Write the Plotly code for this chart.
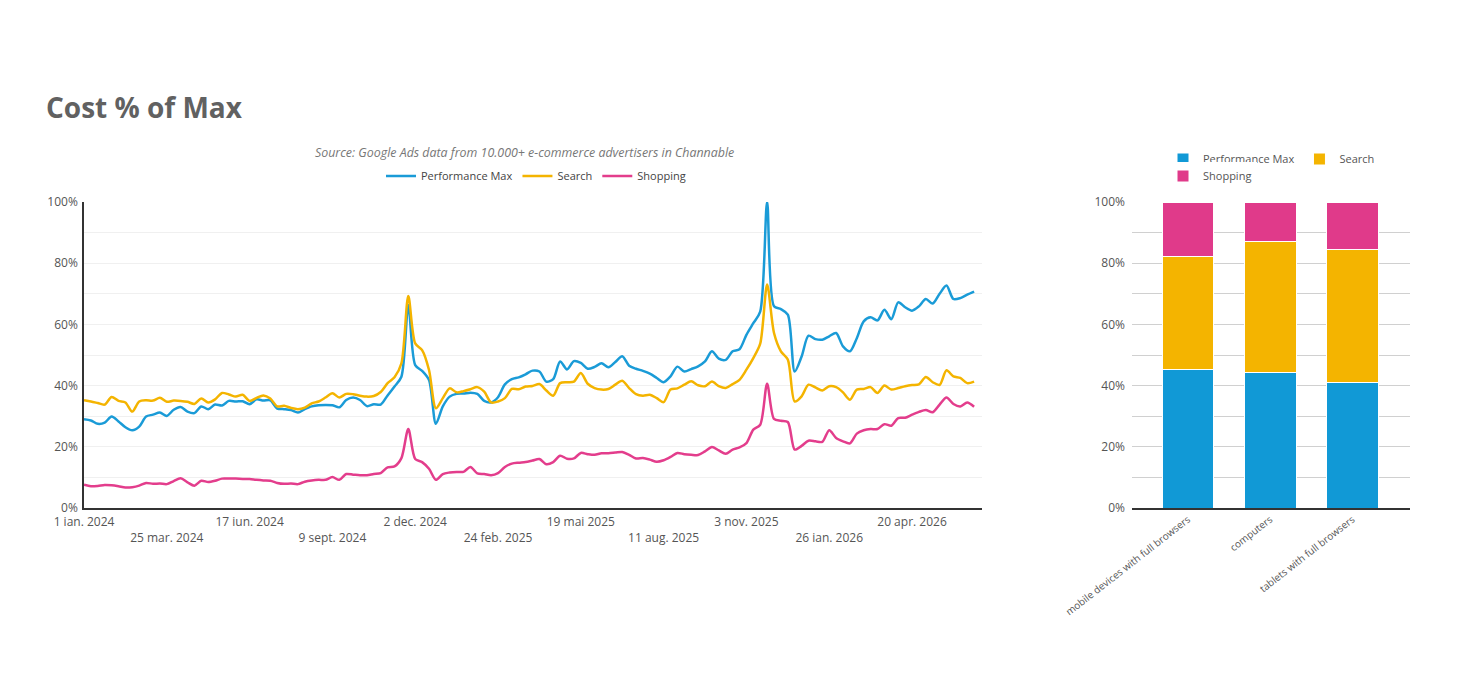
import pandas as pd
import plotly.graph_objects as go

BLUE = "#1a9bd7"
YELLOW = "#f4b400"
PINK = "#e33d8c"
FONT = "Open Sans"

# weekly series, starting Monday 1 Jan 2024
START = "2024-01-01"

pmax = [
    29.0, 28.6, 27.5, 27.9, 29.9, 28.3, 26.4, 25.4, 26.6, 29.9, 30.5, 31.2,
    30.1, 32.1, 33.0, 31.5, 31.0, 33.2, 32.3, 33.8, 33.5, 35.0, 34.8, 34.9,
    33.9, 35.5, 35.1, 35.2, 32.5, 32.3, 32.0, 31.2, 32.3, 33.2, 33.6, 33.7,
    33.6, 32.9, 35.3, 36.1, 35.3, 33.3, 33.9, 33.8, 36.8, 39.7, 42.9, 66.3,
    46.7, 44.8, 41.8, 27.5, 33.2, 36.4, 37.3, 37.4, 37.7, 37.3, 35.0, 34.5,
    36.2, 40.4, 42.1, 42.7, 43.7, 44.9, 44.6, 41.3, 42.1, 47.9, 45.3, 48.0,
    47.4, 45.5, 46.1, 47.3, 46.0, 47.7, 49.6, 46.5, 45.5, 44.8, 43.9, 42.5,
    41.1, 43.0, 46.2, 44.6, 45.4, 46.3, 47.9, 51.2, 48.8, 48.4, 51.2, 51.9,
    56.6, 60.4, 64.2, 100.0, 65.9, 65.0, 63.2, 44.6,
    49.5, 56.3, 55.2, 55.0, 56.1, 57.2, 52.8, 51.2, 55.5, 61.0, 62.3, 61.3,
    64.8, 61.7, 67.2, 65.6, 64.5, 65.9, 68.3, 66.8, 70.0, 72.7, 68.3, 68.6,
    69.7, 70.7,
]

search = [
    35.2, 34.8, 34.3, 33.8, 36.3, 35.0, 34.5, 31.5, 34.8, 35.2, 35.1, 36.0,
    34.7, 35.1, 35.0, 34.7, 34.0, 35.8, 34.5, 35.5, 37.6, 37.1, 36.4, 37.0,
    35.0, 36.0, 36.8, 35.8, 33.2, 33.4, 32.7, 32.3, 32.8, 34.2, 34.8, 36.1,
    37.5, 36.1, 37.3, 37.2, 36.7, 36.4, 36.6, 37.9, 40.8, 42.7, 47.3, 69.3,
    53.8, 51.6, 45.1, 32.6, 35.9, 39.1, 37.8, 38.2, 38.8, 39.5, 38.0, 34.5,
    34.8, 35.9, 38.9, 38.8, 39.7, 39.9, 40.5, 38.4, 36.7, 40.8, 41.1, 41.3,
    44.1, 40.6, 39.2, 38.7, 38.9, 40.3, 41.6, 39.2, 37.2, 36.7, 37.0, 35.9,
    34.6, 38.7, 39.1, 40.3, 41.4, 40.1, 39.8, 41.3, 39.8, 39.2, 40.5, 41.9,
    45.2, 49.0, 53.7, 73.0, 57.2, 51.2, 48.5, 34.8,
    36.5, 40.3, 39.4, 38.4, 39.8, 39.5, 37.8, 35.4, 38.7, 38.9, 39.5, 37.6,
    40.0, 38.7, 39.2, 39.8, 40.2, 40.4, 42.8, 41.1, 40.2, 45.0, 43.0, 42.5,
    40.8, 41.3,
]

shopping = [
    7.6, 7.1, 7.2, 7.5, 7.4, 7.1, 6.7, 6.8, 7.3, 8.2, 7.9, 8.0,
    7.8, 8.8, 9.7, 8.4, 7.3, 8.9, 8.5, 8.9, 9.6, 9.6, 9.6, 9.5,
    9.5, 9.2, 9.0, 8.9, 8.2, 7.9, 8.0, 7.8, 8.6, 9.0, 9.2, 9.2,
    10.1, 9.2, 11.1, 10.9, 10.7, 10.7, 11.1, 11.4, 13.3, 13.6, 16.3, 25.8,
    16.0, 15.0, 12.8, 9.2, 11.1, 11.6, 11.8, 11.8, 13.4, 11.3, 11.1, 10.7,
    11.4, 13.4, 14.5, 14.8, 15.0, 15.5, 16.0, 14.3, 15.0, 17.1, 16.1, 16.2,
    18.0, 17.6, 17.4, 17.9, 17.9, 18.1, 18.3, 17.4, 16.2, 16.3, 15.8, 15.1,
    15.6, 16.7, 18.0, 17.6, 17.4, 17.3, 18.5, 19.9, 18.8, 17.7, 19.1, 19.8,
    21.2, 25.6, 27.2, 40.6, 29.1, 28.5, 28.1, 19.1,
    20.3, 22.0, 21.8, 21.6, 25.4, 22.9, 21.8, 21.1, 24.3, 25.4, 25.8, 25.8,
    27.4, 26.9, 29.4, 29.5, 30.5, 31.4, 32.0, 31.3, 33.8, 36.1, 34.0, 33.2,
    34.5, 33.1,
]

tick_dates = [
    "2024-01-01", "2024-03-25", "2024-06-17", "2024-09-09", "2024-12-02",
    "2025-02-24", "2025-05-19", "2025-08-11", "2025-11-03", "2026-01-26",
    "2026-04-20",
]
tick_labels = [
    "1 ian. 2024", "25 mar. 2024", "17 iun. 2024", "9 sept. 2024",
    "2 dec. 2024", "24 feb. 2025", "19 mai 2025", "11 aug. 2025",
    "3 nov. 2025", "26 ian. 2026", "20 apr. 2026",
]

devices = ["mobile devices with full browsers", "computers",
           "tablets with full browsers"]
dev_pmax = [45.3, 44.2, 41.0]
dev_search = [36.9, 42.9, 43.6]
dev_shopping = [17.8, 12.9, 15.4]

# page body has an 8px margin, so the figure is a bit smaller than the window
OFF = 8
W, H = 1464, 675


def px(x):
    return (x - OFF) / W


def py(y):
    return 1 - (y - OFF) / H


dates = pd.date_range(START, periods=len(pmax), freq="7D")

# alternate tick labels between two rows
ticktext = [t if i % 2 == 0 else "<br>" + t for i, t in enumerate(tick_labels)]

fig = go.Figure()

for name, vals, color in [("Performance Max", pmax, BLUE),
                          ("Search", search, YELLOW),
                          ("Shopping", shopping, PINK)]:
    fig.add_trace(
        go.Scatter(
            x=dates,
            y=vals,
            mode="lines",
            name=name,
            line=dict(color=color, width=2.5, shape="spline", smoothing=0.8),
            legend="legend",
            xaxis="x",
            yaxis="y",
        )
    )

for name, vals, color, leg in [("Performance Max", dev_pmax, "#1199d6", "legend2"),
                               ("Search", dev_search, YELLOW, "legend2"),
                               ("Shopping", dev_shopping, "#e03a8a", "legend3")]:
    fig.add_trace(
        go.Bar(
            x=devices,
            y=vals,
            name=name,
            marker=dict(color=color, line=dict(color="white", width=1)),
            legend=leg,
            xaxis="x2",
            yaxis="y2",
        )
    )

fig.update_layout(
    width=W,
    height=H,
    margin=dict(l=0, r=0, t=0, b=0),
    paper_bgcolor="white",
    plot_bgcolor="white",
    font=dict(family=FONT, color="#555555"),
    barmode="stack",
    bargap=0.37,
    title=dict(
        text="<b>Cost % of Max</b>",
        x=px(46), y=py(108), xanchor="left", yanchor="middle",
        font=dict(family=FONT, size=28, color="#616161"),
    ),
    xaxis=dict(
        domain=[px(84), px(982)],
        anchor="y",
        automargin=False,
        type="date",
        range=["2024-01-01", "2026-06-30"],
        tickvals=tick_dates,
        ticktext=ticktext,
        showgrid=False,
        showline=True,
        linecolor="#333333",
        linewidth=1.5,
        ticks="",
        ticklabelstandoff=2,
        tickfont=dict(size=12, color="#555555"),
    ),
    yaxis=dict(
        domain=[py(508), py(202)],
        anchor="x",
        automargin=False,
        range=[0, 100],
        dtick=20,
        ticksuffix="%",
        gridcolor="#f0f0f0",
        minor=dict(dtick=10, showgrid=True, gridcolor="#f0f0f0"),
        showline=True,
        linecolor="#333333",
        linewidth=1.5,
        zeroline=False,
        ticklabelstandoff=2,
        tickfont=dict(size=12, color="#555555"),
    ),
    xaxis2=dict(
        domain=[px(1132), px(1410)],
        anchor="y2",
        automargin=False,
        type="category",
        range=[-0.68, 2.7],
        tickangle=-38,
        showline=True,
        linecolor="#333333",
        linewidth=1.5,
        tickfont=dict(size=10, color="#555555"),
    ),
    yaxis2=dict(
        domain=[py(508), py(202)],
        anchor="x2",
        automargin=False,
        range=[0, 100],
        dtick=20,
        ticksuffix="%",
        gridcolor="#d0d0d0",
        minor=dict(dtick=10, showgrid=True, gridcolor="#d0d0d0"),
        zeroline=False,
        ticklabelstandoff=6,
        tickfont=dict(size=12, color="#555555"),
    ),
    legend=dict(
        orientation="h",
        x=px(536), y=py(176), xanchor="center", yanchor="middle",
        font=dict(size=11, color="#444444"),
    ),
    legend2=dict(
        orientation="h",
        traceorder="normal",
        itemwidth=30,
        x=px(1163), y=py(159), xanchor="left", yanchor="middle",
        font=dict(size=11, color="#555555"),
    ),
    legend3=dict(
        orientation="h",
        itemwidth=30,
        x=px(1163), y=py(176), xanchor="left", yanchor="middle",
        font=dict(size=11, color="#555555"),
    ),
    annotations=[
        dict(
            text="<i>Source: Google Ads data from 10.000+ e-commerce advertisers in Channable</i>",
            x=px(524), y=py(153), xref="paper", yref="paper",
            showarrow=False, xanchor="center", yanchor="middle",
            font=dict(size=12.4, color="#777777"),
        )
    ],
)

fig.write_html("out.html")
